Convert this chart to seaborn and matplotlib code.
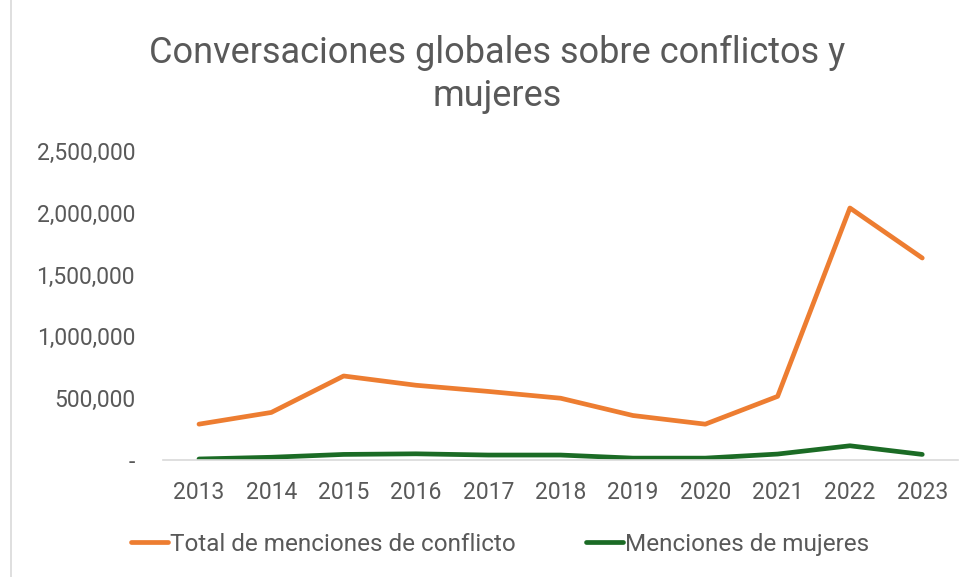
import pandas as pd
import matplotlib.pyplot as plt
import matplotlib.ticker as mticker
from matplotlib.lines import Line2D
import seaborn as sns

# values
years = ['2013', '2014', '2015', '2016', '2017', '2018', '2019', '2020', '2021', '2022', '2023']
total_conflicto = [290000, 385000, 680000, 605000, 555000, 500000, 360000, 290000, 515000, 2040000, 1635000]
menciones_mujeres = [8000, 22000, 45000, 50000, 40000, 40000, 15000, 15000, 48000, 115000, 45000]

serie_total = 'Total de menciones de conflicto'
serie_mujeres = 'Menciones de mujeres'

df = pd.DataFrame({
    'year': years * 2,
    'value': total_conflicto + menciones_mujeres,
    'serie': [serie_total] * len(years) + [serie_mujeres] * len(years),
})

sns.set_theme(style='white')
plt.rcParams['font.family'] = ['Roboto', 'DejaVu Sans']
text_color = '#595959'

fig = plt.figure(figsize=(9.75, 5.77), dpi=100)
ax = fig.add_axes([0.167, 0.2028, 0.816, 0.5352])

sns.lineplot(data=df, x='year', y='value', hue='serie',
             palette={serie_total: '#ED7D31', serie_mujeres: '#1B6B25'},
             linewidth=3.4, ax=ax, legend=False, sort=False)
for line in ax.lines:
    line.set_solid_capstyle('round')
    line.set_solid_joinstyle('round')

ax.set_xlim(-0.5, len(years) - 0.5)
ax.set_ylim(0, 2500000)
ax.yaxis.set_major_locator(mticker.MultipleLocator(500000))
ax.yaxis.set_major_formatter(mticker.FuncFormatter(lambda v, p: '-' if v == 0 else f'{int(v):,}'))
ax.tick_params(axis='both', length=0, labelsize=16.5, labelcolor=text_color)
ax.tick_params(axis='x', pad=15)
ax.tick_params(axis='y', pad=20)
ax.set_xlabel('')
ax.set_ylabel('')
for side in ['top', 'right', 'left']:
    ax.spines[side].set_visible(False)
ax.spines['bottom'].set_color('#D9D9D9')
ax.spines['bottom'].set_linewidth(1.2)

fig.suptitle('Conversaciones globales sobre conflictos y\nmujeres', x=0.51, y=0.94, va='top',
             fontsize=26, color=text_color, linespacing=1.25)

handles = [Line2D([0], [0], color='#ED7D31', lw=3.4, solid_capstyle='round'),
           Line2D([0], [0], color='#1B6B25', lw=3.4, solid_capstyle='round')]
fig.legend(handles, [serie_total, serie_mujeres], loc='center', bbox_to_anchor=(0.513, 0.057),
           ncol=2, frameon=False, fontsize=17.5, labelcolor=text_color,
           handlelength=1.5, handletextpad=0.1, columnspacing=2.9)

# chart frame edge on the left
fig.add_artist(Line2D([0.011, 0.011], [0, 1], transform=fig.transFigure, color='#D9D9D9', lw=1.2))

fig.savefig('out.png', dpi=100)
